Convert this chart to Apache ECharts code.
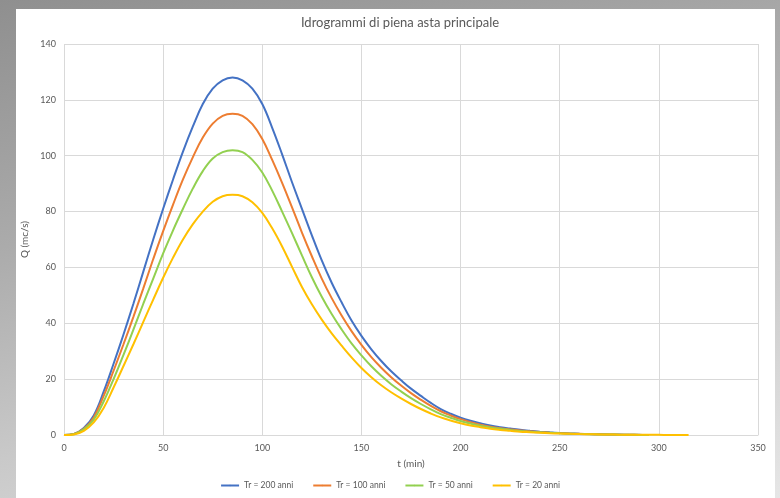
<!DOCTYPE html>
<html lang="it">
<head>
    <meta charset="utf-8">
    <title>Idrogrammi di piena asta principale</title>
    <style>
        body { margin: 0; width: 780px; height: 498px; overflow: hidden;
               background: linear-gradient(165deg, #8f8f8f 0%, #ababab 35%, #c9c9c9 65%, #e6e6e6 100%); }
        #panel { position: absolute; left: 16px; top: 9px; width: 759px; height: 489px; background: #ffffff; }
        #main { position: absolute; left: 0; top: 0; width: 780px; height: 498px; }
    </style>
</head>
<body>
<div id="panel"></div>
<div id="main"></div>

<script src="https://cdn.jsdelivr.net/npm/echarts@6/dist/echarts.min.js"></script>
<script>
// tempo (min)
var tempi = [0, 5, 10, 15, 20, 25, 30, 35, 40, 45, 50, 55, 60, 65, 70, 75, 80, 85, 90, 95,
    100, 105, 110, 115, 120, 125, 130, 135, 140, 145, 150, 155, 160, 165, 170, 175, 180, 185, 190, 195,
    200, 205, 210, 215, 220, 225, 230, 235, 240, 245, 250, 255, 260, 265, 270, 275, 280, 285, 290, 295,
    300, 305, 310, 315];

// portate Q (mc/s)
var tr200 = [0, 0.4, 2.5, 7, 15.5, 25.5, 36, 47, 58.5, 70, 81, 91.5, 101.5, 110.5, 118.5, 124, 127, 128, 127, 124,
    118.5, 110, 100.5, 90.5, 81, 71.5, 62.5, 54.5, 47.5, 41, 35.5, 30.7, 26.5, 22.8, 19.6, 16.6, 14, 11.5, 9.3, 7.6,
    6.2, 5.1, 4.2, 3.4, 2.8, 2.3, 1.85, 1.5, 1.2, 0.95, 0.75, 0.58, 0.45, 0.35, 0.27, 0.2, 0.14, 0.09, 0.05, 0];
var tr100 = [0, 0.4, 2.2, 6.3, 14, 23, 32.5, 42.3, 52.5, 63, 73, 82.5, 91.5, 99.5, 106.5, 111.5, 114.3, 115, 114.3, 111.3,
    106, 98.5, 90.3, 81.5, 72.5, 64, 56, 49, 42.8, 37.2, 32.3, 27.9, 24.1, 20.7, 17.7, 15, 12.6, 10.4, 8.5, 7,
    5.7, 4.6, 3.7, 3, 2.45, 2, 1.6, 1.3, 1.05, 0.85, 0.68, 0.53, 0.41, 0.32, 0.25, 0.18, 0.13, 0.08, 0.04, 0];
var tr50 = [0, 0.3, 2, 5.5, 12, 20, 28.7, 37.7, 47, 56, 65, 73.3, 81, 88.3, 94.5, 99, 101.3, 102, 101.3, 98.5,
    94, 87.5, 80, 72.3, 64.3, 56.5, 49.5, 43.3, 37.8, 32.8, 28.5, 24.6, 21.2, 18.2, 15.6, 13.2, 11.1, 9.2, 7.5, 6.2,
    5, 4.1, 3.3, 2.7, 2.2, 1.8, 1.45, 1.2, 0.95, 0.78, 0.62, 0.49, 0.38, 0.29, 0.22, 0.16, 0.12, 0.08, 0.04, 0];
var tr20 = [0, 0.2, 1.5, 4.5, 9.7, 17, 24.7, 32.5, 40.5, 48.5, 56.3, 63.5, 70, 75.5, 80, 83.5, 85.5, 86, 85.5, 83.3,
    79.5, 74, 67.5, 60.2, 53, 46.8, 41.3, 36.4, 32, 27.8, 24, 20.7, 17.8, 15.3, 13.1, 11.1, 9.3, 7.7, 6.3, 5.2,
    4.2, 3.4, 2.8, 2.2, 1.8, 1.5, 1.2, 1, 0.8, 0.65, 0.52, 0.42, 0.33, 0.26, 0.2, 0.16, 0.12, 0.1, 0.08, 0.06,
    0.05, 0.03, 0.02, 0];

var nomi = ['Tr = 200 anni', 'Tr = 100 anni', 'Tr = 50 anni', 'Tr = 20 anni'];
var colori = ['#4472C4', '#ED7D31', '#92D050', '#FFC000'];
var serieQ = [tr200, tr100, tr50, tr20];

function coppie(valori) {
    return valori.map(function (q, i) { return [tempi[i], q]; });
}

var myChart = echarts.init(document.getElementById('main'));

var font = 'Lato, "Open Sans", sans-serif';

var option = {
    backgroundColor: 'transparent',
    animation: false,
    title: {
        text: 'Idrogrammi di piena asta principale',
        left: 395,
        textAlign: 'center',
        top: 11,
        textStyle: { color: '#595959', fontSize: 13, fontWeight: 'normal', fontFamily: font }
    },
    legend: {
        bottom: 3,
        left: 'center',
        itemWidth: 18,
        itemHeight: 2,
        itemGap: 19,
        textStyle: { color: '#595959', fontSize: 8.5, fontFamily: font },
        data: nomi
    },
    grid: { left: 64, right: 22, top: 44, bottom: 63 },
    xAxis: {
        type: 'value',
        min: 0, max: 350, interval: 50,
        name: 't (min)',
        nameLocation: 'middle',
        nameGap: 24,
        nameTextStyle: { color: '#595959', fontSize: 10, fontFamily: font },
        axisLine: { lineStyle: { color: '#d9d9d9' } },
        axisTick: { show: false },
        axisLabel: { color: '#595959', fontSize: 9, margin: 9, fontFamily: font },
        splitLine: { lineStyle: { color: '#d9d9d9' } }
    },
    yAxis: {
        type: 'value',
        min: 0, max: 140, interval: 20,
        name: 'Q (mc/s)',
        nameLocation: 'middle',
        nameGap: 27,
        nameTextStyle: { color: '#595959', fontSize: 10, fontFamily: font },
        axisLine: { show: false },
        axisTick: { show: false },
        axisLabel: { color: '#595959', fontSize: 9, margin: 8, fontFamily: font },
        splitLine: { lineStyle: { color: '#d9d9d9' } }
    },
    series: serieQ.map(function (valori, k) {
        return {
            name: nomi[k],
            type: 'line',
            data: coppie(valori),
            smooth: 0.4,
            symbol: 'none',
            color: colori[k],
            lineStyle: { width: 2, color: colori[k] }
        };
    })
};

myChart.setOption(option);
</script>
</body>
</html>
